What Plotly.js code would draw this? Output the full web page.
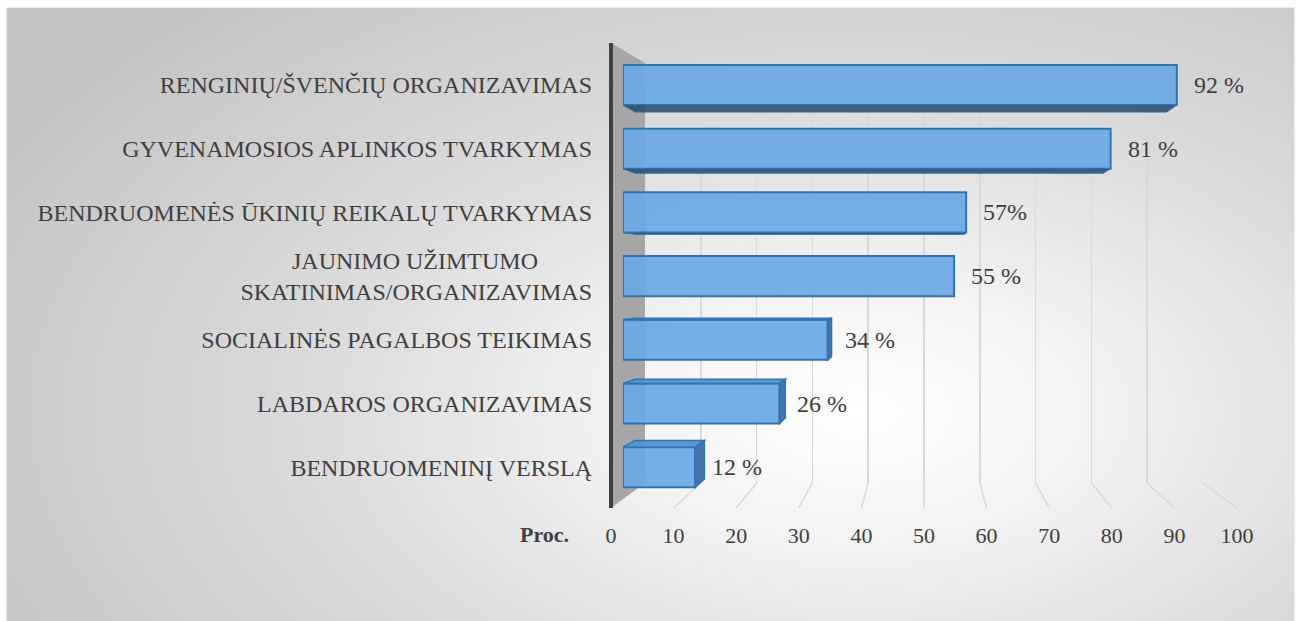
<!DOCTYPE html>
<html>
<head>
<meta charset="utf-8">
<script src="https://cdn.plot.ly/plotly-3.0.1.min.js"></script>
<style>
  html, body { margin:0; padding:0; background:#ffffff; }
  #panel {
    position:absolute; left:7px; top:8px; width:1287px; height:613px;
    background: radial-gradient(ellipse 75% 90% at 66% 66%, #ffffff 0%, #f4f4f4 22%, #dcdcdc 55%, #c4c4c4 100%);
    box-shadow: 0 0 2px rgba(0,0,0,0.25);
  }
  #chart { position:absolute; left:0; top:0; width:1299px; height:621px; }
</style>
</head>
<body>
<div id="panel"></div>
<div id="chart"></div>
<script>
// ---- data ----
const categories = [
  "RENGINIŲ/ŠVENČIŲ ORGANIZAVIMAS",
  "GYVENAMOSIOS APLINKOS TVARKYMAS",
  "BENDRUOMENĖS ŪKINIŲ REIKALŲ TVARKYMAS",
  "JAUNIMO UŽIMTUMO\u00a0\u00a0\u00a0\u00a0\u00a0\u00a0\u00a0\u00a0\u00a0<br>SKATINIMAS/ORGANIZAVIMAS",
  "SOCIALINĖS PAGALBOS TEIKIMAS",
  "LABDAROS ORGANIZAVIMAS",
  "BENDRUOMENINĮ VERSLĄ"
];
const values = [92, 81, 57, 55, 34, 26, 12];
const valueLabels = ["92 %", "81 %", "57%", "55 %", "34 %", "26 %", "12 %"];
const tickValues = [0, 10, 20, 30, 40, 50, 60, 70, 80, 90, 100];
const axisTitle = "Proc.";

// ---- layout helpers (pixel -> paper) ----
const W = 1299, H = 621;
const px = x => x / W;
const py = y => 1 - y / H;

const FRONT = [611, 1237];   // front floor edge (tick labels)
const BACK = [645, 1203];    // back wall grid
const BARS = [623, 1225];    // bar plane
const BACK_TOP = 63, BACK_BOT = 483, FRONT_BOT = 508, WALL_TOP = 43;
const idx = categories.map((c, i) => i);

const textColor = "#404040";
const font = "'Liberation Serif', 'Times New Roman', serif";

// perspective for bar depth faces (data units)
const vpX = 50, vpY = 3.06, k = 0.96, half = 0.315;
const back = (x, y) => [vpX + (x - vpX) * k, vpY + (y - vpY) * k];

const shapes = [];
// wall
shapes.push({
  type: "path", xref: "paper", yref: "paper", layer: "below",
  path: `M${px(FRONT[0])},${py(WALL_TOP)} L${px(BACK[0])},${py(BACK_TOP)} L${px(BACK[0])},${py(BACK_BOT)} L${px(FRONT[0])},${py(FRONT_BOT)} Z`,
  fillcolor: "#a6a6a6", line: { width: 0 }
});
shapes.push({
  type: "line", xref: "paper", yref: "paper", layer: "below",
  x0: px(FRONT[0]), x1: px(FRONT[0]), y0: py(WALL_TOP), y1: py(FRONT_BOT),
  line: { color: "#404040", width: 4 }
});
// floor grid segments
tickValues.slice(1).forEach(v => {
  const bx = BACK[0] + (BACK[1] - BACK[0]) * v / 100;
  const fx = FRONT[0] + (FRONT[1] - FRONT[0]) * v / 100;
  shapes.push({
    type: "line", xref: "paper", yref: "paper", layer: "below",
    x0: px(bx), y0: py(BACK_BOT), x1: px(fx), y1: py(FRONT_BOT),
    line: { color: "#d9d9d9", width: 1.5 }
  });
});
// bar depth faces
values.forEach((v, i) => {
  const top = i - half, bot = i + half;
  if (bot < vpY) {
    const a = back(0, bot), b = back(v, bot);
    shapes.push({ type: "path", xref: "x2", yref: "y2", layer: "above",
      path: `M0,${bot} L${v},${bot} L${b[0]},${b[1]} L${a[0]},${a[1]} Z`,
      fillcolor: "rgba(40,70,105,0.85)", line: { color: "#2e75b6", width: 1 } });
  }
  if (top > vpY) {
    const a = back(0, top), b = back(v, top);
    shapes.push({ type: "path", xref: "x2", yref: "y2", layer: "above",
      path: `M0,${top} L${v},${top} L${b[0]},${b[1]} L${a[0]},${a[1]} Z`,
      fillcolor: "rgba(85,145,205,0.95)", line: { color: "#2e75b6", width: 1.5 } });
  }
  if (v < vpX) {
    const a = back(v, top), b = back(v, bot);
    shapes.push({ type: "path", xref: "x2", yref: "y2", layer: "above",
      path: `M${v},${top} L${a[0]},${a[1]} L${b[0]},${b[1]} L${v},${bot} Z`,
      fillcolor: "rgba(60,110,165,0.95)", line: { color: "#2e75b6", width: 1.5 } });
  }
});

const annotations = values.map((v, i) => ({
  x: v, y: i, xref: "x2", yref: "y2", text: valueLabels[i],
  xanchor: "left", yanchor: "middle", xshift: 15, showarrow: false,
  font: { family: font, size: 24, color: textColor }
}));
annotations.push({
  x: px(544), y: py(534), xref: "paper", yref: "paper", text: "<b>" + axisTitle + "</b>",
  showarrow: false, xanchor: "center", yanchor: "middle",
  font: { family: font, size: 22, color: textColor }
});

// back-wall grid subplot (drawn first, below the bars)
const gridTrace = { type: "scatter", x: [0, 100], y: [0, 1], xaxis: "x", yaxis: "y",
  mode: "markers", marker: { opacity: 0 }, hoverinfo: "skip", showlegend: false };
// bars
const trace = {
  type: "bar", orientation: "h", x: values, y: idx, width: 2 * half, xaxis: "x2", yaxis: "y2",
  marker: { color: "rgba(108,168,228,0.93)", line: { color: "#2e75b6", width: 2 } },
  hoverinfo: "skip", cliponaxis: false
};
// front tick-label axis
const tickTrace = { type: "scatter", x: [0, 100], y: [0, 1], xaxis: "x3", yaxis: "y3",
  mode: "markers", marker: { opacity: 0 }, hoverinfo: "skip", showlegend: false };

const layout = {
  width: W, height: H,
  margin: { l: 0, r: 0, t: 0, b: 0 },
  paper_bgcolor: "rgba(0,0,0,0)", plot_bgcolor: "rgba(0,0,0,0)",
  showlegend: false,
  xaxis: { domain: [px(BACK[0]), px(BACK[1])], range: [0, 100], anchor: "y",
    tickvals: tickValues.slice(1), showgrid: true, gridcolor: "#d9d9d9", gridwidth: 1.5,
    showticklabels: false, zeroline: false, showline: false, ticks: "" },
  yaxis: { domain: [py(BACK_BOT), py(BACK_TOP)], range: [0, 1], anchor: "x",
    showgrid: false, zeroline: false, showticklabels: false, showline: false },
  xaxis2: { domain: [px(BARS[0]), px(BARS[1])], range: [0, 100], anchor: "y2", showgrid: false,
    zeroline: false, showticklabels: false, showline: false },
  yaxis2: { domain: [py(63.7 * 6 + 85 + 31.85), py(85 - 31.85)], range: [6.5, -0.5], anchor: "x2",
    tickvals: idx, ticktext: categories, showgrid: false, zeroline: false, showline: false,
    ticks: "", ticklabelstandoff: 30,
    tickfont: { family: font, size: 24, color: textColor } },
  xaxis3: { domain: [px(FRONT[0]), px(FRONT[1])], range: [0, 100], anchor: "y3",
    tickvals: tickValues, showgrid: false, zeroline: false, showline: false,
    ticks: "", ticklabelstandoff: 12,
    tickfont: { family: font, size: 22, color: textColor } },
  yaxis3: { domain: [py(FRONT_BOT), py(FRONT_BOT - 1)], range: [0, 1], anchor: "x3",
    showgrid: false, zeroline: false, showticklabels: false, showline: false },
  shapes: shapes,
  annotations: annotations
};

Plotly.newPlot("chart", [gridTrace, trace, tickTrace], layout, { displayModeBar: false, staticPlot: true });
</script>
</body>
</html>
